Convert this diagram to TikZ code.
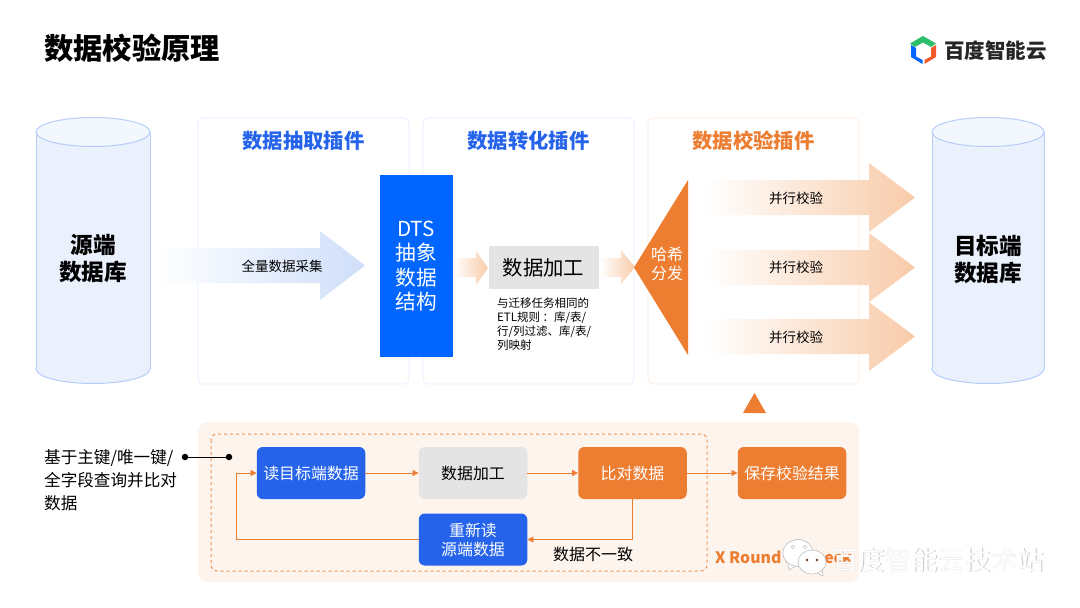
\documentclass[tikz,border=0pt]{standalone}
\usepackage{fontspec}
\setmainfont{Noto Sans CJK SC}
\usepackage{tikz}
\usetikzlibrary{arrows.meta}
\definecolor{bdblue}{HTML}{2563EB}
\definecolor{dtsblue}{HTML}{0066FF}
\definecolor{bdorange}{HTML}{ED7D31}
\definecolor{bdgray}{HTML}{E4E4E4}
\definecolor{cylfill}{HTML}{EAF1FD}
\definecolor{cyltop}{HTML}{F3F7FE}
\definecolor{cylline}{HTML}{B5CDF8}
\definecolor{panelblue}{HTML}{EEF3FE}
\definecolor{panelorange}{HTML}{FDF1E9}
\definecolor{roundfill}{HTML}{FDF4EE}
\definecolor{fadeblue}{HTML}{CFDEFA}
\definecolor{fadeorange}{HTML}{F8CBA9}
\definecolor{markgray}{HTML}{C4C4C4}
\definecolor{logogreen}{HTML}{2DBE6C}
\definecolor{logored}{HTML}{F0592B}
\tikzset{
    panelbox/.style={draw, line width=1.2pt, rounded corners=5pt, fill=white},
    paneltitle/.style={font=\fontsize{20.3}{24}\selectfont\bfseries},
    flowbox/.style={rounded corners=6pt, minimum width=108.5pt, minimum height=52pt, inner sep=0pt, font=\fontsize{15.9}{19}\selectfont, align=center},
    flowline/.style={bdorange, line width=1pt, -{Triangle[length=6pt,width=6pt]}},
    dotmark/.style={circle, fill=black, inner sep=0pt, minimum size=6.5pt},
    fadeblueshape/.style={left color=white, right color=fadeblue},
    fadeorangeshape/.style={left color=white, right color=fadeorange},
    smalllabel/.style={font=\fontsize{13.5}{16}\selectfont},
    cyllabel/.style={font=\fontsize{22.6}{27}\selectfont\bfseries, align=center},
    bubble/.style={draw=markgray, fill=white, line width=0.7pt},
}
\begin{document}
\begin{tikzpicture}[x=1pt, y=-1pt]
    \useasboundingbox (0,0) rectangle (1080,608);
    \node[anchor=west, inner sep=0pt, font=\fontsize{29.3}{34}\selectfont\bfseries] (title) at (44,48) {数据校验原理};

    \fill[logogreen] (923,36)--(936,43.5)--(931,47)--(923,42.5)--(915,47)--(910,43.5)--cycle;
    \fill[dtsblue] (911,45)--(916,48)--(916,56.5)--(922.5,60)--(922.5,64)--(911,57)--cycle;
    \fill[logored] (936,45)--(936,57)--(924.5,64)--(924.5,60)--(931,56.5)--(931,48)--cycle;
    \node[anchor=west, inner sep=0pt, text=black!85, font=\fontsize{20.5}{24}\selectfont\bfseries] (logotext) at (944,51) {百度智能云};

    \draw[panelblue, panelbox] (198,118) rectangle (409,384);
    \draw[panelblue, panelbox] (423,118) rectangle (634,384);
    \draw[panelorange, panelbox] (648,118) rectangle (859,384);
    \node[paneltitle, text=bdblue] (extracttitle) at (303.5,141) {数据抽取插件};
    \node[paneltitle, text=bdblue] (converttitle) at (528.5,141) {数据转化插件};
    \node[paneltitle, text=bdorange] (checktitle) at (753.5,141) {数据校验插件};

    \draw[cylline, fill=cylfill, line width=1pt] (93,369) ellipse [x radius=57pt, y radius=14.5pt];
    \fill[cylfill] (36,132) rectangle (150,369);
    \draw[cylline, line width=1pt] (36,132)--(36,369);
    \draw[cylline, line width=1pt] (150,132)--(150,369);
    \draw[cylline, fill=cyltop, line width=1pt] (93,132) ellipse [x radius=57pt, y radius=14.5pt];
    \node[cyllabel] (source) at (93,259) {源端\\数据库};

    \draw[cylline, fill=cylfill, line width=1pt] (988,369) ellipse [x radius=56pt, y radius=14.5pt];
    \fill[cylfill] (932,132) rectangle (1044,369);
    \draw[cylline, line width=1pt] (932,132)--(932,369);
    \draw[cylline, line width=1pt] (1044,132)--(1044,369);
    \draw[cylline, fill=cyltop, line width=1pt] (988,132) ellipse [x radius=56pt, y radius=14.5pt];
    \node[cyllabel] (target) at (988,259) {目标端\\数据库};

    \shade[fadeblueshape] (155,248)--(320,248)--(320,231)--(365,265.5)--(320,300)--(320,283)--(155,283)--cycle;
    \node[smalllabel] (collect) at (282,266) {全量数据采集};

    \node[fill=dtsblue, minimum width=73pt, minimum height=182pt, inner sep=0pt, text=white, align=center, font=\fontsize{20.7}{24.5}\selectfont] (dts) at (416,266) {DTS\\抽象\\数据\\结构};

    \shade[fadeorangeshape] (453,258)--(476,258)--(476,251)--(488,268)--(476,285)--(476,277)--(453,277)--cycle;
    \node[fill=bdgray, minimum width=110pt, minimum height=43pt, inner sep=0pt, font=\fontsize{20.4}{24}\selectfont] (process) at (543.5,267.5) {数据加工};
    \node[anchor=north west, inner sep=0pt, align=left, font=\fontsize{11.5}{13.8}\selectfont] (rules) at (497,298) {与迁移任务相同的\\ETL规则 ：库/表/\\行/列过滤、库/表/\\列映射};
    \shade[fadeorangeshape] (600,258)--(621,258)--(621,250)--(635,267)--(621,284)--(621,277)--(600,277)--cycle;

    \fill[bdorange] (634,267.5)--(688,180)--(688,355)--cycle;
    \node[text=white, align=center, font=\fontsize{16}{19}\selectfont] (hash) at (667,264) {哈希\\分发};

    \shade[fadeorangeshape] (705,180)--(869,180)--(869,163)--(915,197.5)--(869,232)--(869,215)--(705,215)--cycle;
    \shade[fadeorangeshape] (705,250)--(869,250)--(869,233)--(915,267.5)--(869,302)--(869,285)--(705,285)--cycle;
    \shade[fadeorangeshape] (705,319)--(869,319)--(869,302)--(915,336.5)--(869,371)--(869,354)--(705,354)--cycle;
    \node[smalllabel] (check1) at (796,198) {并行校验};
    \node[smalllabel] (check2) at (796,267) {并行校验};
    \node[smalllabel] (check3) at (796,337) {并行校验};

    \fill[bdorange] (743,413)--(754.5,393)--(766,413)--cycle;

    \fill[roundfill, rounded corners=9pt] (198,422) rectangle (859,582);
    \draw[bdorange!85, dashed, line width=1pt, rounded corners=6pt] (211,434) rectangle (707,571);

    \node[anchor=west, inner sep=0pt, align=left, font=\fontsize{16.6}{23}\selectfont] (basis) at (44,480) {基于主键/唯一键/\\全字段查询并比对\\数据};
    \node[dotmark] (dotleft) at (185,457) {};
    \node[dotmark] (dotright) at (229,457) {};
    \draw[line width=0.9pt] (dotleft)--(dotright);

    \node[flowbox, fill=bdblue, text=white] (readtarget) at (311,473) {读目标端数据};
    \node[flowbox, fill=bdgray] (flowprocess) at (473,473) {数据加工};
    \node[flowbox, fill=bdorange, text=white] (compare) at (632.5,473) {比对数据};
    \node[flowbox, fill=bdorange, text=white] (save) at (792,473) {保存校验结果};
    \node[flowbox, fill=bdblue, text=white] (reread) at (473,539.5) {重新读\\源端数据};
    \coordinate (rightturn) at (compare.south |- reread.east);
    \coordinate (leftturn) at (236,539.5);
    \coordinate (upturn) at (236,473);

    \draw[flowline] (readtarget)--(flowprocess);
    \draw[flowline] (flowprocess)--(compare);
    \draw[flowline] (compare)--(save);
    \draw[flowline] (compare.south)--(rightturn)--(reread.east);
    \draw[flowline] (reread.west)--(leftturn)--(upturn)--(readtarget.west);

    \node[font=\fontsize{16}{20}\selectfont] (mismatch) at (593,554) {数据不一致};
    \node[anchor=west, inner sep=0pt, text=bdorange, font=\fontsize{15.8}{18}\selectfont\bfseries] (recheck) at (715,557) {X Round Recheck};

    \draw[bubble] (788,564)--(789,570)--(796,566);
    \draw[bubble] (798,553) ellipse [x radius=15pt, y radius=13.5pt];
    \draw[markgray, line width=0.6pt] (793,547) circle [radius=1.7];
    \draw[markgray, line width=0.6pt] (805,547) circle [radius=1.7];
    \draw[bubble] (815,572)--(823,576)--(822,569);
    \draw[bubble] (812,562) ellipse [x radius=14pt, y radius=12pt];
    \fill[black!55!bdorange] (807,560) circle [radius=1.3];
    \fill[black!55!bdorange] (817,560) circle [radius=1.3];
    \node[anchor=west, inner sep=0pt, text=markgray, font=\fontsize{26.5}{30}\selectfont] (markshadow) at (832.7,560.7) {百度智能云技术站};
    \node[anchor=west, inner sep=0pt, text=white, font=\fontsize{26.5}{30}\selectfont] (marktext) at (832,560) {百度智能云技术站};
\end{tikzpicture}
\end{document}
